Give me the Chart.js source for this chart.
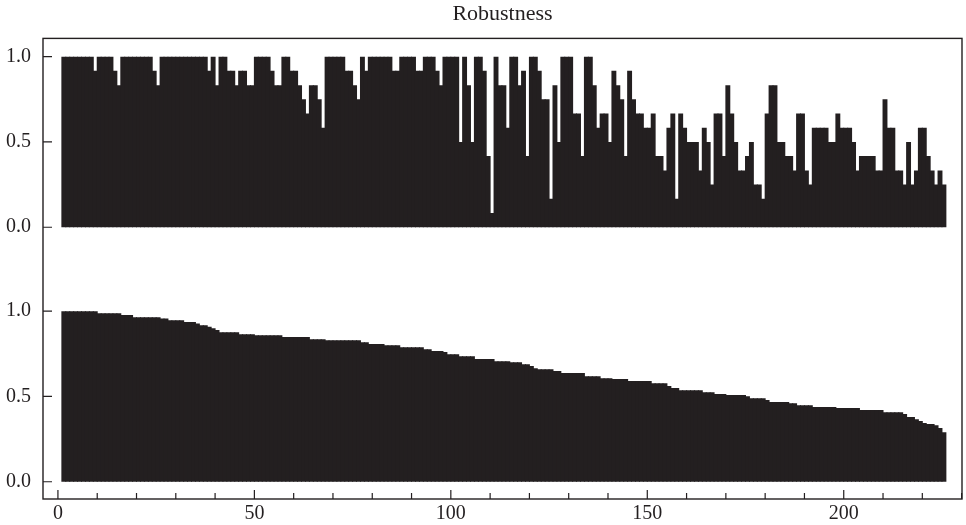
<!DOCTYPE html>
<html>
<head>
<meta charset="utf-8">
<title>Robustness</title>
<script src="https://cdn.jsdelivr.net/npm/chart.js@4.4.1/dist/chart.umd.min.js"></script>
<style>
    html, body { margin: 0; padding: 0; background: #ffffff; }
    #wrap { width: 966px; height: 525px; }
</style>
</head>
<body>
<div id="wrap"><canvas id="chart"></canvas></div>
<script>
// upper panel: robustness per run (1..225)
const robustness = [
    1, 1, 1, 1, 1, 1, 1, 1, 0.917, 1,
    1, 1, 1, 0.917, 0.833, 1, 1, 1, 1, 1,
    1, 1, 1, 0.917, 0.833, 1, 1, 1, 1, 1,
    1, 1, 1, 1, 1, 1, 1, 0.917, 1, 0.833,
    1, 1, 0.917, 0.917, 0.833, 0.917, 0.917, 0.833, 0.833, 1,
    1, 1, 1, 0.917, 0.833, 0.833, 1, 1, 0.917, 0.917,
    0.833, 0.75, 0.667, 0.833, 0.833, 0.75, 0.583, 1, 1, 1,
    1, 1, 0.917, 0.917, 0.833, 0.75, 1, 0.917, 1, 1,
    1, 1, 1, 1, 0.917, 0.917, 1, 1, 1, 1,
    0.917, 0.917, 1, 1, 1, 0.917, 0.833, 1, 1, 1,
    1, 0.5, 1, 0.833, 0.5, 1, 1, 0.917, 0.417, 0.083,
    1, 0.833, 0.833, 0.583, 1, 1, 0.833, 0.917, 0.417, 1,
    1, 0.917, 0.75, 0.75, 0.167, 0.833, 0.5, 1, 1, 1,
    0.667, 0.667, 0.417, 1, 1, 0.833, 0.583, 0.667, 0.667, 0.5,
    0.917, 0.833, 0.75, 0.417, 0.917, 0.75, 0.667, 0.667, 0.583, 0.583,
    0.667, 0.417, 0.417, 0.333, 0.583, 0.667, 0.167, 0.667, 0.583, 0.5,
    0.5, 0.5, 0.333, 0.583, 0.5, 0.25, 0.667, 0.667, 0.417, 0.833,
    0.667, 0.5, 0.333, 0.333, 0.417, 0.5, 0.25, 0.25, 0.167, 0.667,
    0.833, 0.833, 0.5, 0.5, 0.417, 0.417, 0.333, 0.667, 0.667, 0.333,
    0.25, 0.583, 0.583, 0.583, 0.583, 0.5, 0.5, 0.667, 0.583, 0.583,
    0.583, 0.5, 0.333, 0.417, 0.417, 0.417, 0.417, 0.333, 0.333, 0.75,
    0.583, 0.583, 0.333, 0.333, 0.25, 0.5, 0.25, 0.333, 0.583, 0.583,
    0.417, 0.333, 0.25, 0.333, 0.25
];

// lower panel: sorted robustness
const robustnessSorted = [
    1, 1, 1, 1, 1, 1, 1, 1, 1, 0.988,
    0.988, 0.988, 0.988, 0.988, 0.988, 0.977, 0.977, 0.977, 0.965, 0.965,
    0.965, 0.965, 0.965, 0.965, 0.965, 0.957, 0.957, 0.947, 0.947, 0.947,
    0.947, 0.936, 0.936, 0.936, 0.928, 0.918, 0.918, 0.908, 0.9, 0.889,
    0.877, 0.877, 0.877, 0.877, 0.877, 0.865, 0.865, 0.865, 0.865, 0.859,
    0.859, 0.859, 0.859, 0.859, 0.859, 0.859, 0.848, 0.848, 0.848, 0.848,
    0.848, 0.848, 0.848, 0.836, 0.836, 0.836, 0.836, 0.83, 0.83, 0.83,
    0.83, 0.83, 0.83, 0.83, 0.83, 0.83, 0.818, 0.818, 0.807, 0.807,
    0.807, 0.807, 0.801, 0.801, 0.801, 0.801, 0.789, 0.789, 0.789, 0.789,
    0.789, 0.789, 0.777, 0.777, 0.766, 0.766, 0.766, 0.76, 0.748, 0.748,
    0.748, 0.736, 0.736, 0.736, 0.736, 0.719, 0.719, 0.719, 0.719, 0.719,
    0.707, 0.707, 0.707, 0.707, 0.701, 0.701, 0.701, 0.689, 0.689, 0.678,
    0.666, 0.66, 0.66, 0.66, 0.66, 0.649, 0.649, 0.637, 0.637, 0.637,
    0.637, 0.637, 0.637, 0.619, 0.619, 0.619, 0.619, 0.607, 0.607, 0.607,
    0.602, 0.602, 0.602, 0.602, 0.59, 0.59, 0.59, 0.59, 0.59, 0.59,
    0.578, 0.578, 0.578, 0.578, 0.561, 0.549, 0.549, 0.537, 0.537, 0.537,
    0.537, 0.537, 0.537, 0.525, 0.525, 0.525, 0.514, 0.514, 0.514, 0.508,
    0.508, 0.508, 0.508, 0.508, 0.502, 0.49, 0.49, 0.49, 0.49, 0.479,
    0.467, 0.467, 0.467, 0.467, 0.467, 0.461, 0.461, 0.449, 0.449, 0.449,
    0.449, 0.438, 0.438, 0.438, 0.438, 0.438, 0.438, 0.432, 0.432, 0.432,
    0.432, 0.432, 0.432, 0.42, 0.42, 0.42, 0.42, 0.42, 0.42, 0.408,
    0.408, 0.408, 0.408, 0.408, 0.397, 0.379, 0.379, 0.367, 0.356, 0.344,
    0.338, 0.338, 0.332, 0.315, 0.291
];

const xTickValues = [0, 10, 20, 30, 40, 50, 60, 70, 80, 90, 100, 110, 120,
    130, 140, 150, 160, 170, 180, 190, 200, 210, 220, 230];
const xTickLabels = [0, 50, 100, 150, 200];
const yTickValues = [0, 0.5, 1.0];

const ink = '#231f20';
const serif = "'Liberation Serif', 'DejaVu Serif', serif";

// each run i occupies the interval [i, i+1] on the x axis
const toPoints = values => values.map((v, i) => ({ x: i + 1.5, y: v }));

function fixTicks(values) {
    return scale => { scale.ticks = values.map(v => ({ value: v })); };
}

// frame and inward tick marks
const framePlugin = {
    id: 'frame',
    afterDraw(chart) {
        const { ctx, chartArea: a, scales } = chart;
        ctx.save();
        ctx.strokeStyle = ink;
        ctx.lineWidth = 1.4;
        ctx.strokeRect(a.left, a.top, a.right - a.left, a.bottom - a.top);

        ctx.lineWidth = 1.2;
        ctx.beginPath();
        xTickValues.forEach(v => {
            const px = scales.x.getPixelForValue(v);
            const len = v % 50 === 0 ? 9 : 6;
            ctx.moveTo(px, a.bottom);
            ctx.lineTo(px, a.bottom - len);
        });
        ['yTop', 'yBottom'].forEach(id => {
            yTickValues.forEach(v => {
                const py = scales[id].getPixelForValue(v);
                ctx.moveTo(a.left, py);
                ctx.lineTo(a.left + 9, py);
            });
        });
        ctx.stroke();
        ctx.restore();
    }
};

const yAxis = (min, max) => ({
    type: 'linear',
    position: 'left',
    stack: 'panels',
    stackWeight: 1,
    min: min,
    max: max,
    afterBuildTicks: fixTicks(yTickValues),
    afterFit: scale => { scale.width = 43; },
    grid: { display: false, drawTicks: false },
    border: { display: false },
    ticks: {
        padding: 12,
        color: ink,
        font: { family: serif, size: 20 },
        callback: v => Number(v).toFixed(1)
    }
});

const barStyle = {
    backgroundColor: ink,
    borderWidth: 0,
    barPercentage: 1.25,
    categoryPercentage: 1,
    inflateAmount: 0
};

const ctx = document.getElementById('chart').getContext('2d');
const chart = new Chart(ctx, {
    type: 'bar',
    data: {
        datasets: [
            Object.assign({ label: 'sorted', data: toPoints(robustnessSorted), yAxisID: 'yBottom' }, barStyle),
            Object.assign({ label: 'robustness', data: toPoints(robustness), yAxisID: 'yTop' }, barStyle)
        ]
    },
    options: {
        responsive: true,
        maintainAspectRatio: false,
        animation: false,
        layout: { padding: { left: 0, right: 4, top: 0, bottom: 0 } },
        plugins: {
            legend: { display: false },
            tooltip: { enabled: false },
            title: {
                display: true,
                text: 'Robustness',
                fullSize: false,
                color: ink,
                font: { family: serif, size: 22, weight: 'normal' },
                padding: { top: 1, bottom: 11 }
            }
        },
        scales: {
            x: {
                type: 'linear',
                stacked: true,
                offset: false,
                min: -3.8,
                max: 230.1,
                afterBuildTicks: fixTicks(xTickValues),
                afterFit: scale => { scale.height = 26; },
                grid: { display: false, drawTicks: false, offset: false },
                border: { display: false },
                ticks: {
                    autoSkip: false,
                    maxRotation: 0,
                    padding: 3,
                    color: ink,
                    font: { family: serif, size: 20 },
                    callback: v => xTickLabels.includes(v) ? String(v) : ''
                }
            },
            yBottom: yAxis(-0.101, 1.249),
            yTop: yAxis(-0.243, 1.107)
        }
    },
    plugins: [framePlugin]
});
</script>
</body>
</html>
